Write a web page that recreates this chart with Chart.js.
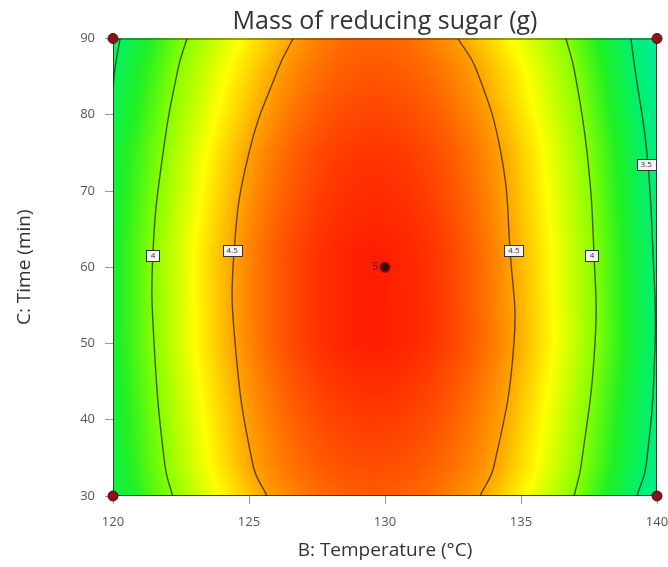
<!DOCTYPE html>
<html>
<head>
<meta charset="utf-8">
<script src="https://cdn.jsdelivr.net/npm/chart.js@4.4.1/dist/chart.umd.min.js"></script>
<style>
  html, body { margin: 0; padding: 0; background: #fff; }
  #wrap { width: 668px; height: 567px; }
</style>
</head>
<body>
<div id="wrap"><canvas id="myChart" width="668" height="567"></canvas></div>
<script>
// Axis ticks
const tempTicks = [120, 125, 130, 135, 140];
const timeTicks = [30, 40, 50, 60, 70, 80, 90];

const contourTimes = [30, 34, 50, 62, 75, 86, 90];
// Temperature (°C) of each contour line at those times
const contour4Left = [122.19, 121.91, 121.51, 121.47, 121.84, 122.39, 122.72];
const contour45Left = [125.66, 125.15, 124.49, 124.45, 125.0, 126.07, 126.62];
const contour45Right = [133.49, 134.01, 134.74, 134.60, 134.26, 133.35, 132.68];
const contour4Right = [136.95, 137.21, 137.72, 137.68, 137.43, 136.95, 136.65];
const contour35Right = [139.26, 139.60, 139.93, 139.85, 139.63, 139.19, 139.04];
// small piece of the 3.5 line in the top left corner
const contour35LeftTimes = [83.5, 86, 90];
const contour35Left = [120.0, 120.07, 120.26];

// Response (g) along each row: at the ridge and at the two edges
const ridgeTemp = 129.6;
const ridgeValues = [4.66, 4.70, 4.82, 4.82, 4.76, 4.67, 4.64];
const leftEdgeValues = [3.62, 3.64, 3.70, 3.70, 3.66, 3.55, 3.50];
const rightEdgeValues = [3.40, 3.44, 3.49, 3.48, 3.45, 3.40, 3.38];

// Contour labels
const labelTexts = ['4', '4.5', '4.5', '4', '3.5'];
const labelTemps = [121.47, 124.38, 134.74, 137.61, 139.6];
const labelTimes = [61.6, 62.2, 62.2, 61.6, 73.5];

// Design points
const designTemps = [120, 120, 140, 140];
const designTimes = [30, 90, 30, 90];
const centerTemps = [130];
const centerTimes = [60];
const centerReplicates = '5';

// colour scale of the response
const colorStops = [
    [3.3, [0, 232, 176]],
    [3.5, [0, 240, 112]],
    [3.75, [30, 240, 36]],
    [4.0, [136, 255, 0]],
    [4.25, [255, 255, 0]],
    [4.5, [255, 160, 0]],
    [4.65, [255, 96, 0]],
    [4.82, [255, 30, 0]]
];

Chart.defaults.font.family = "'Open Sans', 'Noto Sans', sans-serif";

function colorFor(v) {
    if (v <= colorStops[0][0]) return 'rgb(' + colorStops[0][1].join(',') + ')';
    for (let i = 1; i < colorStops.length; i++) {
        if (v <= colorStops[i][0]) {
            const a = colorStops[i - 1], b = colorStops[i];
            const f = (v - a[0]) / (b[0] - a[0]);
            const c = a[1].map((ch, k) => Math.round(ch + f * (b[1][k] - ch)));
            return 'rgb(' + c.join(',') + ')';
        }
    }
    return 'rgb(' + colorStops[colorStops.length - 1][1].join(',') + ')';
}

function valueAt(times, vals, t) {
    if (t <= times[0]) return vals[0];
    for (let i = 1; i < times.length; i++) {
        if (t <= times[i]) {
            const f = (t - times[i - 1]) / (times[i] - times[i - 1]);
            return vals[i - 1] + f * (vals[i] - vals[i - 1]);
        }
    }
    return vals[vals.length - 1];
}

function toPoints(temps, times) {
    return temps.map((T, i) => ({ x: T, y: times[i] }));
}

// fills the plot area row by row, following the contour lines
const shadingPlugin = {
    id: 'shading',
    beforeDatasetsDraw(chart) {
        const { ctx, chartArea, scales } = chart;
        const xs = scales.x, ys = scales.y;
        const w = chartArea.right - chartArea.left;
        ctx.save();
        for (let py = Math.floor(chartArea.top); py < chartArea.bottom; py++) {
            const t = ys.getValueForPixel(py + 0.5);
            const ridge = valueAt(contourTimes, ridgeValues, t);
            const nodes = [
                [chartArea.left, valueAt(contourTimes, leftEdgeValues, t), 'lin'],
                [xs.getPixelForValue(valueAt(contourTimes, contour4Left, t)), 4.0, 'lin'],
                [xs.getPixelForValue(valueAt(contourTimes, contour45Left, t)), 4.5, 'up'],
                [xs.getPixelForValue(ridgeTemp), ridge, 'down'],
                [xs.getPixelForValue(valueAt(contourTimes, contour45Right, t)), 4.5, 'lin'],
                [xs.getPixelForValue(valueAt(contourTimes, contour4Right, t)), 4.0, 'lin'],
                [Math.min(xs.getPixelForValue(valueAt(contourTimes, contour35Right, t)), chartArea.right - 0.5), 3.5, 'lin'],
                [chartArea.right, valueAt(contourTimes, rightEdgeValues, t), 'lin']
            ];
            const grad = ctx.createLinearGradient(chartArea.left, 0, chartArea.right, 0);
            let last = -1;
            for (let i = 0; i < nodes.length - 1; i++) {
                const [x0, v0, mode] = nodes[i];
                const [x1, v1] = nodes[i + 1];
                const n = 8;
                for (let k = 0; k < n; k++) {
                    const u = k / n;
                    let v;
                    if (mode === 'up') v = v1 - (v1 - v0) * (1 - u) * (1 - u);
                    else if (mode === 'down') v = v0 - (v0 - v1) * u * u;
                    else v = v0 + (v1 - v0) * u;
                    const off = Math.min(1, Math.max(0, (x0 + (x1 - x0) * u - chartArea.left) / w));
                    if (off >= last) {
                        grad.addColorStop(off, colorFor(v));
                        last = off;
                    }
                }
            }
            grad.addColorStop(1, colorFor(nodes[nodes.length - 1][1]));
            ctx.fillStyle = grad;
            ctx.fillRect(chartArea.left, py, w, 1);
        }
        // frame
        ctx.strokeStyle = '#3a3a2a';
        ctx.lineWidth = 1;
        ctx.strokeRect(chartArea.left + 0.5, chartArea.top + 0.5, w - 1, chartArea.bottom - chartArea.top - 1);
        ctx.restore();
    }
};

// boxed labels on the contours and the replicate count
const labelPlugin = {
    id: 'contourLabels',
    afterDatasetsDraw(chart) {
        const { ctx, scales } = chart;
        ctx.save();
        ctx.font = "8px 'Open Sans', sans-serif";
        ctx.textAlign = 'center';
        ctx.textBaseline = 'middle';
        labelTexts.forEach((txt, i) => {
            const x = scales.x.getPixelForValue(labelTemps[i]);
            const y = scales.y.getPixelForValue(labelTimes[i]);
            const bw = Math.round(ctx.measureText(txt).width + 8);
            const bh = 11;
            const bx = Math.round(x - bw / 2) + 0.5, by = Math.round(y - bh / 2) + 0.5;
            ctx.fillStyle = '#f4f4f4';
            ctx.fillRect(bx, by, bw, bh);
            ctx.strokeStyle = '#333';
            ctx.lineWidth = 1;
            ctx.strokeRect(bx, by, bw, bh);
            ctx.fillStyle = '#333';
            ctx.fillText(txt, x, y + 0.5);
        });
        const cx = scales.x.getPixelForValue(centerTemps[0]);
        const cy = scales.y.getPixelForValue(centerTimes[0]);
        ctx.font = "10px 'Open Sans', sans-serif";
        ctx.textAlign = 'right';
        ctx.fillStyle = '#402020';
        ctx.fillText(centerReplicates, cx - 7, cy);
        ctx.restore();
    }
};

const lineStyle = {
    showLine: true,
    pointRadius: 0,
    borderColor: 'rgba(45, 35, 0, 0.75)',
    borderWidth: 1.4,
    tension: 0.45
};

const chartCanvas = document.getElementById('myChart').getContext('2d');
const chart = new Chart(chartCanvas, {
    type: 'scatter',
    data: {
        datasets: [
            { ...lineStyle, data: toPoints(contour4Left, contourTimes) },
            { ...lineStyle, data: toPoints(contour45Left, contourTimes) },
            { ...lineStyle, data: toPoints(contour45Right, contourTimes) },
            { ...lineStyle, data: toPoints(contour4Right, contourTimes) },
            { ...lineStyle, data: toPoints(contour35Right, contourTimes) },
            { ...lineStyle, data: toPoints(contour35Left, contour35LeftTimes) },
            {
                data: toPoints(designTemps, designTimes),
                pointRadius: 5,
                pointBackgroundColor: '#8c1418',
                pointBorderColor: '#5a0a0c',
                pointBorderWidth: 1,
                clip: false
            },
            {
                data: toPoints(centerTemps, centerTimes),
                pointRadius: 5,
                pointBackgroundColor: '#3c0808',
                pointBorderColor: '#9a1010',
                pointBorderWidth: 1.5,
                clip: false
            }
        ]
    },
    options: {
        responsive: false,
        animation: false,
        layout: { padding: { top: 0, right: 11, left: 0, bottom: 0 } },
        plugins: {
            legend: { display: false },
            tooltip: { enabled: false },
            title: {
                display: true,
                text: 'Mass of reducing sugar (g)',
                fullSize: false,
                color: '#333',
                font: { size: 25, weight: 'normal', lineHeight: 1.0 },
                padding: { top: 9.5, bottom: 4 }
            }
        },
        scales: {
            x: {
                type: 'linear',
                min: 120,
                max: 140,
                afterBuildTicks: (scale) => { scale.ticks = tempTicks.map(v => ({ value: v })); },
                afterFit: (scale) => {
                    scale.height = 71;
                    scale.paddingLeft = 0;
                    scale.paddingRight = 0;
                },
                ticks: { color: '#555', font: { size: 13 }, padding: 10 },
                grid: { drawOnChartArea: false, tickLength: 8, color: '#999' },
                border: { display: false },
                title: {
                    display: true,
                    text: 'B: Temperature (°C)',
                    color: '#333',
                    font: { size: 19 },
                    padding: { top: 0, bottom: 4.6 }
                }
            },
            y: {
                type: 'linear',
                min: 30,
                max: 90,
                afterBuildTicks: (scale) => { scale.ticks = timeTicks.map(v => ({ value: v })); },
                afterFit: (scale) => {
                    scale.width = 113;
                    scale.paddingTop = 0;
                    scale.paddingBottom = 0;
                },
                ticks: { color: '#555', font: { size: 13 }, padding: 10 },
                grid: { drawOnChartArea: false, tickLength: 8, color: '#999' },
                border: { display: false },
                title: {
                    display: true,
                    text: 'C: Time (min)',
                    color: '#333',
                    font: { size: 19 },
                    padding: { top: 13.6, bottom: 0 }
                }
            }
        }
    },
    plugins: [shadingPlugin, labelPlugin]
});
</script>
</body>
</html>
